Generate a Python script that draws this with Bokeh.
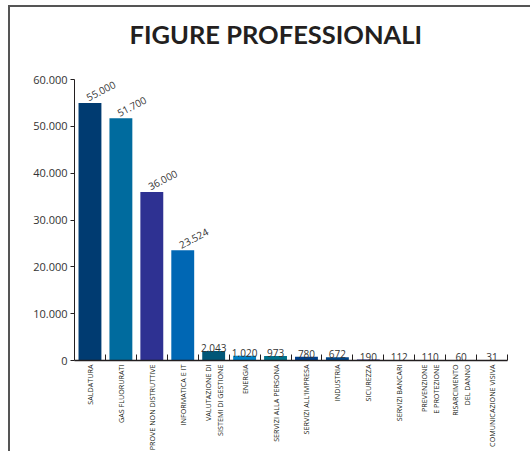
import math
from bokeh.plotting import figure
from bokeh.models import ColumnDataSource, Range1d, FixedTicker, Title
from bokeh.core.properties import value
from bokeh.embed import file_html
from bokeh.resources import INLINE

categories = [
    "Saldatura", "Gas Fluorurati", "Prove non Distruttive", "Informatica e IT",
    "Valutazione di\nSistemi di Gestione", "Energia", "Servizi alla Persona",
    "Servizi all'Impresa", "Industria", "Sicurezza", "Servizi Bancari",
    "Prevenzione\ne Protezione", "Risarcimento\ndel Danno", "Comunicazione Visiva",
]
values = [55000, 51700, 36000, 23524, 2043, 1020, 973, 780, 672, 190, 112, 110, 60, 31]
colors = [
    "#003b71", "#006b9e", "#2e3192", "#0067b4", "#005677", "#0081c6", "#00708a",
    "#003f8a", "#004688", "#2e3192", "#1ba1d6", "#5b8ca0", "#57a5c9", "#231f20",
]
y_ticks = [0, 10000, 20000, 30000, 40000, 50000, 60000]

def fmt(v):
    return f"{v:,}".replace(",", ".")

n = len(categories)
xs = [i + 0.5 for i in range(n)]
labels_txt = [fmt(v) for v in values]

src = ColumnDataSource(dict(x=xs, top=values, color=colors, label=labels_txt))
big = [i for i, v in enumerate(values) if v > 10000]
small = [i for i, v in enumerate(values) if v <= 10000]
src_big = ColumnDataSource(dict(x=[xs[i] for i in big], y=[values[i] for i in big],
                                label=[labels_txt[i] for i in big]))
src_small = ColumnDataSource(dict(x=[xs[i] for i in small], y=[values[i] for i in small],
                                  label=[labels_txt[i] for i in small]))

p = figure(width=522, height=446, output_backend="svg", toolbar_location=None,
           x_range=Range1d(0, n), y_range=Range1d(0, 60000),
           min_border_left=64, min_border_right=25, min_border_top=72, min_border_bottom=93,
           title="FIGURE PROFESSIONALI")
p.styles = {"border-top": "2px solid #555", "border-left": "2px solid #555",
            "margin-left": "8px", "margin-top": "5px"}

p.title.text_font = "Lato"
p.title.text_font_style = "bold"
p.title.text_font_size = "25.5px"
p.title.text_color = "#231f20"
p.title.align = "left"
p.title.offset = 55
p.title.standoff = 6

# empty spacer between title and plot area
p.add_layout(Title(text=" ", text_font_size="2px", standoff=24), "above")

p.outline_line_color = None
p.xgrid.visible = False
p.ygrid.visible = False
p.background_fill_color = "white"
p.border_fill_color = "white"

p.vbar(x="x", top="top", width=0.74, bottom=0, fill_color="color", line_color=None, source=src)

p.text(x="x", y="y", text="label", source=src_big, angle=0.48, text_align="left",
       text_baseline="alphabetic", x_offset=-3, y_offset=-5,
       text_font=value("Open Sans"), text_font_size="10px", text_color="#333333")
p.text(x="x", y="y", text="label", source=src_small, text_align="center",
       text_baseline="alphabetic", y_offset=-3,
       text_font=value("Open Sans"), text_font_size="10px", text_color="#333333")

xa = p.xaxis[0]
xa.ticker = FixedTicker(ticks=xs, minor_ticks=list(range(1, n + 1)))
xa.major_label_overrides = {x: c.upper() for x, c in zip(xs, categories)}
xa.major_label_orientation = math.pi / 2
xa.major_tick_in = 0
xa.major_tick_out = 0
xa.minor_tick_in = 6
xa.minor_tick_out = 0
xa.minor_tick_line_color = "#231f20"
xa.axis_line_color = "#231f20"
xa.axis_line_width = 1.5
xa.major_label_text_font = "Open Sans"
xa.major_label_text_font_size = "7.2px"
xa.major_label_text_color = "#231f20"
xa.major_label_standoff = 4

ya = p.yaxis[0]
ya.ticker = FixedTicker(ticks=y_ticks)
ya.major_label_overrides = {t: fmt(t) for t in y_ticks}
ya.major_tick_out = 4
ya.major_tick_in = 0
ya.minor_tick_line_color = None
ya.axis_line_color = "#231f20"
ya.major_tick_line_color = "#231f20"
ya.major_label_text_font = "Open Sans"
ya.major_label_text_font_size = "11px"
ya.major_label_text_color = "#333333"
ya.major_label_standoff = 3

open("out.html", "w").write(file_html(p, INLINE))
